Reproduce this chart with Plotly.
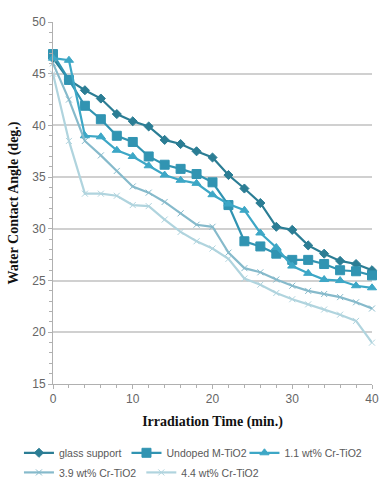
import plotly.graph_objects as go

time_min = [0, 2, 4, 6, 8, 10, 12, 14, 16, 18, 20, 22, 24, 26, 28, 30, 32, 34, 36, 38, 40]

glass_support = [46.5, 44.4, 43.4, 42.6, 41.1, 40.4, 39.9, 38.6, 38.2, 37.5, 36.9, 35.2, 33.9, 32.5, 30.2, 29.9, 28.4, 27.6, 26.9, 26.6, 26.0]
undoped = [46.9, 44.4, 41.9, 40.6, 39.0, 38.4, 37.0, 36.2, 35.8, 35.3, 34.5, 32.3, 28.8, 28.3, 27.6, 27.0, 27.0, 26.6, 26.0, 25.9, 25.5]
cr_1_1 = [46.5, 46.3, 39.0, 38.9, 37.6, 37.0, 36.1, 35.2, 34.7, 34.4, 33.3, 32.4, 31.8, 29.6, 28.2, 26.4, 25.7, 25.1, 25.0, 24.5, 24.3]
cr_3_9 = [46.0, 42.5, 38.5, 37.1, 35.6, 34.1, 33.5, 32.6, 31.5, 30.4, 30.2, 27.7, 26.2, 25.8, 25.1, 24.5, 24.0, 23.7, 23.4, 22.9, 22.3]
cr_4_4 = [45.0, 38.5, 33.4, 33.4, 33.2, 32.3, 32.2, 30.9, 29.7, 28.8, 28.1, 27.1, 25.2, 24.6, 23.8, 23.2, 22.7, 22.2, 21.7, 21.1, 19.0]

series_names = ["glass support", "Undoped M-TiO2", "1.1 wt% Cr-TiO2", "3.9 wt% Cr-TiO2", "4.4 wt% Cr-TiO2"]
series_values = [glass_support, undoped, cr_1_1, cr_3_9, cr_4_4]
colors = ["#2b7d94", "#3194b2", "#3da7c6", "#86bacb", "#b0d4de"]
symbols = ["diamond", "square", "triangle-up", "x-thin", "x-thin"]
sizes = [7, 9, 8, 6, 6]
legend_rows = ["legend", "legend", "legend3", "legend2", "legend2"]

y_ticks = [15, 20, 25, 30, 35, 40, 45, 50]
x_ticks = [0, 10, 20, 30, 40]

fig = go.Figure()
for name, vals, c, s, sz, lg in zip(series_names, series_values, colors, symbols, sizes, legend_rows):
    fig.add_trace(go.Scatter(
        x=time_min, y=vals, name=name, mode="lines+markers",
        line=dict(color=c, width=2.2),
        marker=dict(symbol=s, size=sz, color=c, line=dict(color=c, width=1)),
        cliponaxis=False, legend=lg,
    ))

legend_common = dict(
    orientation="h", xref="container", yref="container",
    xanchor="left", yanchor="top",
    font=dict(family="Liberation Sans, Arial", size=10.5, color="#595959"),
    itemwidth=30, tracegroupgap=0, itemclick=False, bgcolor="rgba(0,0,0,0)",
)

fig.update_layout(
    width=379, height=479,
    margin=dict(l=53, r=7, t=22, b=95, autoexpand=False),
    paper_bgcolor="white", plot_bgcolor="white",
    showlegend=True,
    legend=dict(x=0.05, y=0.085, **legend_common),
    legend3=dict(x=0.645, y=0.085, **legend_common),
    legend2=dict(x=0.05, y=0.044, **legend_common),
    font=dict(family="Liberation Sans, Arial", color="#595959"),
)
fig.update_xaxes(
    range=[0, 40], tickvals=x_ticks, showgrid=False, automargin=False,
    showline=True, linecolor="#b0b0b0", linewidth=1,
    ticks="outside", ticklen=4, tickcolor="#b0b0b0",
    minor=dict(dtick=2, ticks="outside", ticklen=3, tickcolor="#b0b0b0"),
    tickfont=dict(size=12, color="#666666"),
    zeroline=False,
    title=dict(text="Irradiation Time (min.)", standoff=10,
               font=dict(family="Liberation Serif, Times New Roman", size=14, color="#111111", weight="bold")),
)
fig.update_yaxes(
    range=[15, 50], tickvals=y_ticks, showgrid=True, gridcolor="#d0d0d0", gridwidth=1.5,
    automargin=False,
    showline=True, linecolor="#b0b0b0", linewidth=1,
    ticks="outside", ticklen=4, tickcolor="#b0b0b0",
    minor=dict(dtick=1, ticks="outside", ticklen=3, tickcolor="#b0b0b0", showgrid=False),
    tickfont=dict(size=12, color="#666666"),
    zeroline=False,
    title=dict(text="Water Contact Angle (deg.)", standoff=10,
               font=dict(family="Liberation Serif, Times New Roman", size=14, color="#111111", weight="bold")),
)

fig.write_html("out.html", config={"displayModeBar": False},
               post_script="document.body.style.margin='0px';")
